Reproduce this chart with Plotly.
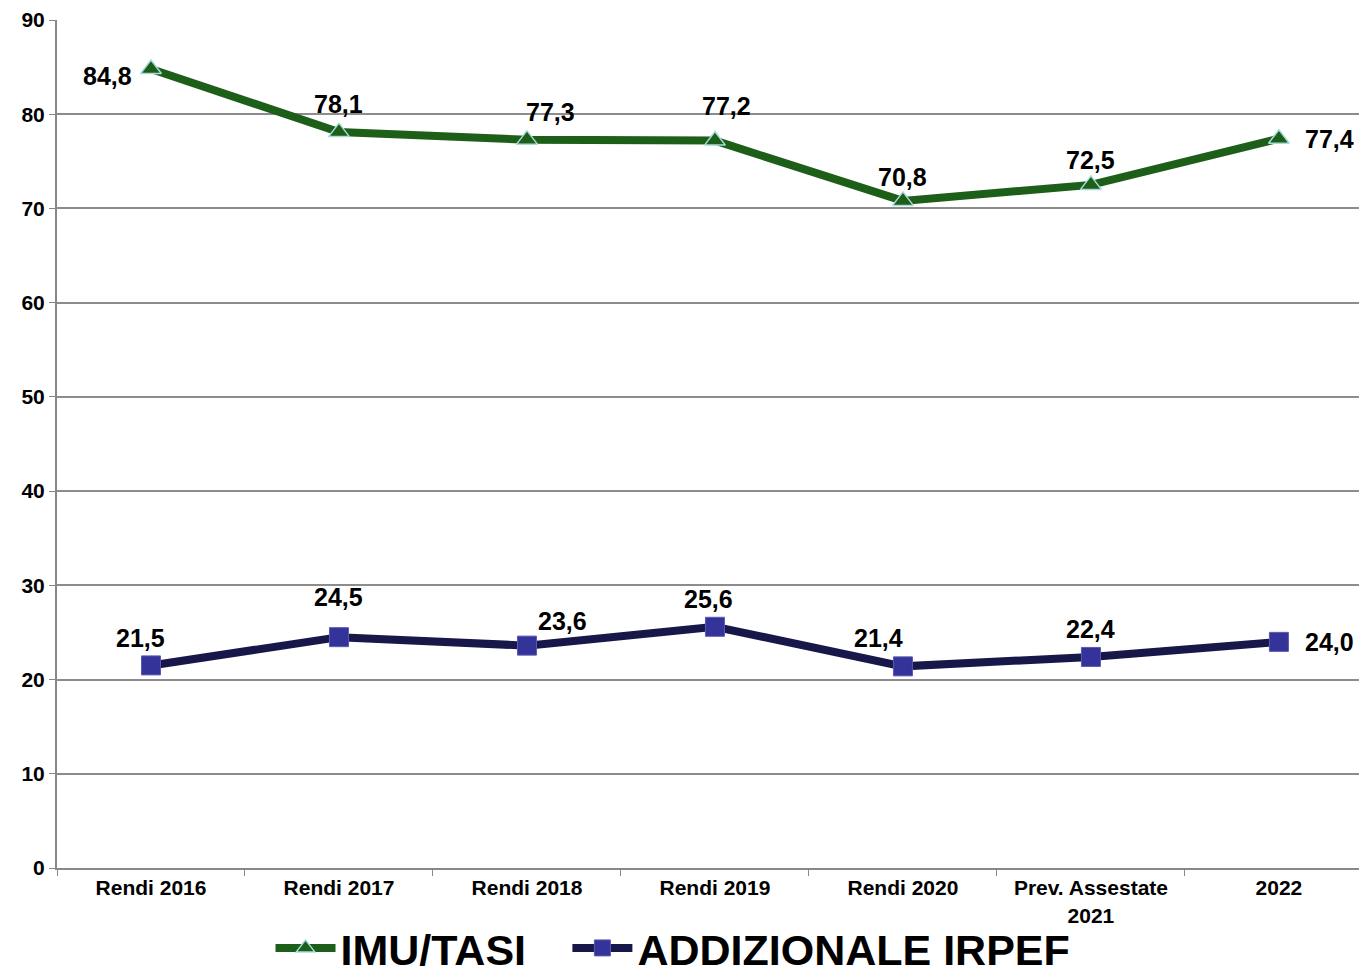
import plotly.graph_objects as go

categories = ["Rendi 2016", "Rendi 2017", "Rendi 2018", "Rendi 2019",
              "Rendi 2020", "Prev. Assestate<br>2021", "2022"]
imu_tasi = [84.8, 78.1, 77.3, 77.2, 70.8, 72.5, 77.4]
irpef = [21.5, 24.5, 23.6, 25.6, 21.4, 22.4, 24.0]
y_ticks = [0, 10, 20, 30, 40, 50, 60, 70, 80, 90]

# label offsets (px) per point
imu_shift = [(-43, -7), (0, 28), (24, 28), (12, 35), (0, 24), (0, 25), (51, 0)]
irpef_shift = [(-10, 27), (0, 40), (36, 25), (-6, 28), (-24, 28), (0, 28), (51, 0)]

FONT = "Liberation Sans, Arial, sans-serif"
legend_font = dict(family=FONT, size=43, color="black", weight="bold")

fig = go.Figure()
fig.add_trace(go.Scatter(
    x=categories, y=imu_tasi, name="IMU/TASI",
    mode="lines+markers", legend="legend",
    line=dict(color="#1d5e19", width=8),
    marker=dict(symbol="triangle-up", size=18, color="#1d5e19",
                line=dict(color="#a8dcdc", width=1.5)),
))
fig.add_trace(go.Scatter(
    x=categories, y=irpef, name="ADDIZIONALE IRPEF",
    mode="lines+markers", legend="legend2",
    line=dict(color="#17174a", width=8),
    marker=dict(symbol="square", size=19, color="#333399",
                line=dict(color="#5a5ab0", width=1)),
))

annotations = []
for vals, shifts in ((imu_tasi, imu_shift), (irpef, irpef_shift)):
    for i, (v, (dx, dy)) in enumerate(zip(vals, shifts)):
        annotations.append(dict(
            x=i, y=v, xref="x", yref="y",
            text=f"{v:.1f}".replace(".", ","), showarrow=False,
            xshift=dx, yshift=dy,
            font=dict(family=FONT, size=25, color="black", weight="bold"),
        ))

fig.update_layout(
    width=1359, height=973,
    margin=dict(l=57, r=0, t=20, b=105, autoexpand=False),
    paper_bgcolor="white", plot_bgcolor="white",
    annotations=annotations,
    showlegend=True,
    legend=dict(orientation="h", x=0.164, xanchor="left", y=-0.0943, yanchor="middle",
                font=legend_font, itemwidth=60, bgcolor="rgba(0,0,0,0)"),
    legend2=dict(orientation="h", x=0.392, xanchor="left", y=-0.0943, yanchor="middle",
                 font=legend_font, itemwidth=60, bgcolor="rgba(0,0,0,0)"),
    font=dict(family=FONT),
)
fig.update_xaxes(
    type="category", tickson="boundaries",
    range=[-0.5, 6.426], showgrid=False,
    showline=True, linecolor="#888888", linewidth=2,
    ticks="outside", ticklen=6, tickcolor="#888888",
    tickfont=dict(family=FONT, size=21, color="black", weight="bold"),
    zeroline=False,
)
fig.update_yaxes(
    range=[0, 90], tickvals=y_ticks,
    showgrid=True, gridcolor="#8c8c8c", gridwidth=1.5,
    showline=True, linecolor="#888888", linewidth=2,
    ticks="outside", ticklen=6, tickcolor="#888888",
    tickfont=dict(family=FONT, size=21, color="black", weight="bold"),
    zeroline=False,
)
# drop the default 8px page margin so the figure fills the window exactly
fig.write_html("out.html", config={"displayModeBar": False},
               post_script="document.body.style.margin='0';")
